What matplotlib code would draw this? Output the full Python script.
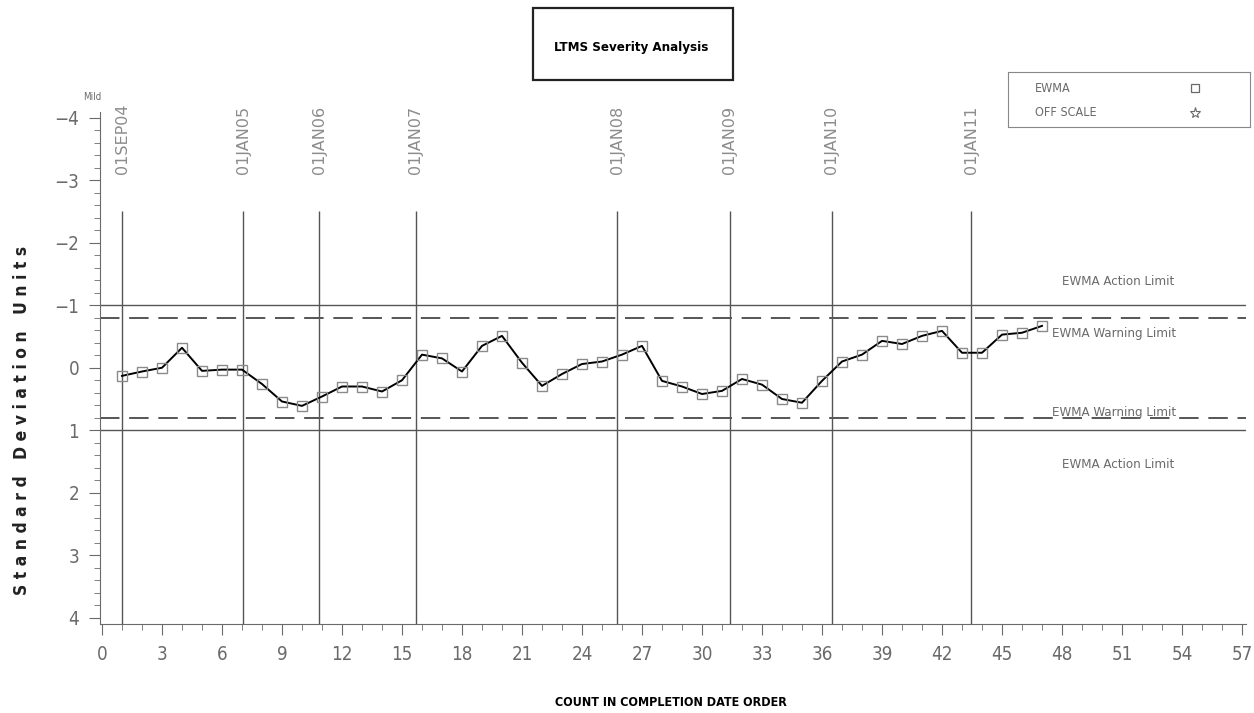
import matplotlib.pyplot as plt
from matplotlib.patches import Rectangle
from matplotlib.ticker import MultipleLocator
import numpy as np

# EWMA values in standard deviation units, one per test in completion order
count = np.arange(1, 48)
ewma = np.array([
    0.13, 0.06, 0.00, -0.32, 0.05, 0.03, 0.03, 0.26, 0.54, 0.61,
    0.46, 0.30, 0.30, 0.38, 0.20, -0.21, -0.15, 0.06, -0.35, -0.51,
    -0.08, 0.29, 0.10, -0.06, -0.10, -0.21, -0.35, 0.21, 0.30, 0.42,
    0.37, 0.18, 0.27, 0.50, 0.56, 0.21, -0.10, -0.21, -0.43, -0.38,
    -0.51, -0.59, -0.24, -0.24, -0.53, -0.56, -0.67,
])

date_pos = [1.0, 7.05, 10.85, 15.7, 25.75, 31.4, 36.5, 43.45]
date_labels = ["01SEP04", "01JAN05", "01JAN06", "01JAN07",
               "01JAN08", "01JAN09", "01JAN10", "01JAN11"]

action_limit = 1.0
warning_limit = 0.8

narrow = dict(family=["DejaVu Sans"], fontstretch="condensed")
grey = "#6a6a6a"

fig = plt.figure(figsize=(12.54, 7.13), dpi=100)
ax = fig.add_axes([100 / 1254, 1 - 624 / 713, 1146 / 1254, 512.5 / 713])

ax.set_xlim(-0.1, 57.2)
ax.set_ylim(4.1, -4.1)

# limit lines
for s in (-1, 1):
    ax.axhline(s * action_limit, color="#555555", lw=1.0)
    ax.axhline(s * warning_limit, color="#555555", lw=1.4, dashes=(10, 5))

# date reference lines
ax.vlines(date_pos, -2.5, 4.1, color="#555555", lw=1.0)
for xp, lab in zip(date_pos, date_labels):
    ax.text(xp, -3.1, lab, rotation=90, ha="center", va="bottom",
            fontsize=11.5, color="#8c8c8c", family="DejaVu Sans")

ax.plot(count, ewma, color="black", lw=1.4, zorder=3)
ax.plot(count, ewma, ls="none", marker="s", ms=7.5, mfc="none",
        mec="#8a8a8a", mew=1.0, zorder=4)

ax.text(48.0, -1.38, "EWMA Action Limit", ha="left", va="center",
        fontsize=9.5, color=grey, **narrow)
ax.text(47.5, -0.54, "EWMA Warning Limit", ha="left", va="center",
        fontsize=9.5, color=grey, **narrow)
ax.text(47.5, 0.72, "EWMA Warning Limit", ha="left", va="center",
        fontsize=9.5, color=grey, **narrow)
ax.text(48.0, 1.55, "EWMA Action Limit", ha="left", va="center",
        fontsize=9.5, color=grey, **narrow)

ax.xaxis.set_major_locator(MultipleLocator(3))
ax.xaxis.set_minor_locator(MultipleLocator(1))
ax.yaxis.set_major_locator(MultipleLocator(1))
ax.yaxis.set_minor_locator(MultipleLocator(0.2))
ax.tick_params(which="major", length=8, color=grey, labelcolor=grey,
               labelsize=13.5, pad=7)
ax.tick_params(which="minor", length=4, color=grey)
for t in ax.get_xticklabels() + ax.get_yticklabels():
    t.set_family(narrow["family"])
    t.set_fontstretch("condensed")

for side in ("top", "right"):
    ax.spines[side].set_visible(False)
for side in ("left", "bottom"):
    ax.spines[side].set_color(grey)

fig.text(92 / 1254, 1 - 97 / 713, "Mild", fontsize=7, color=grey,
         ha="center", va="center", **narrow)

fig.text(22 / 1254, 1 - 420 / 713, "S t a n d a r d   D e v i a t i o n   U n i t s",
         rotation=90, ha="center", va="center", fontsize=12.5,
         fontweight="bold", color="#222222", **narrow)
fig.text(671 / 1254, 1 - 702 / 713, "COUNT IN COMPLETION DATE ORDER",
         ha="center", va="center", fontsize=9, fontweight="bold", **narrow)

# title box
fig.add_artist(Rectangle((533 / 1254, 1 - 80 / 713), 200 / 1254, 72 / 713,
                         transform=fig.transFigure, fill=False,
                         edgecolor="#222222", lw=1.6))
fig.text(631 / 1254, 1 - 47 / 713, "LTMS Severity Analysis", ha="center",
         va="center", fontsize=9.5, fontweight="bold", **narrow)

# legend box
lg = fig.add_axes([1008 / 1254, 1 - 127 / 713, 242 / 1254, 55 / 713])
lg.set_xlim(0, 242)
lg.set_ylim(55, 0)
lg.set_xticks([])
lg.set_yticks([])
for sp in lg.spines.values():
    sp.set_color("#888888")
lg.text(27, 16, "EWMA", va="center", fontsize=9, color=grey, **narrow)
lg.text(27, 41, "OFF SCALE", va="center", fontsize=9, color=grey, **narrow)
lg.plot([187], [16], marker="s", ms=6, mfc="none", mec=grey, mew=0.9)
lg.plot([187], [41], marker="*", ms=8, mfc="none", mec=grey, mew=0.8)

fig.savefig("out.png", dpi=100)
